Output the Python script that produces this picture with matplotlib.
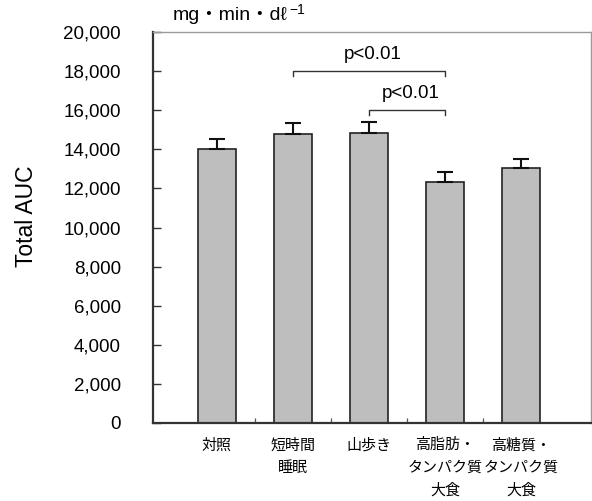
import matplotlib
matplotlib.use("Agg")
import matplotlib.pyplot as plt
import numpy as np

plt.rcParams['font.family'] = ['Liberation Sans', 'Noto Sans CJK JP', 'DejaVu Sans']

categories = ["対照", "短時間\n睡眠", "山歩き", "高脂肪・\nタンパク質\n大食", "高糖質・\nタンパク質\n大食"]
auc_mean = [14000, 14800, 14820, 12350, 13060]
auc_err = [540, 560, 560, 510, 460]
yticks = [0, 2000, 4000, 6000, 8000, 10000, 12000, 14000, 16000, 18000, 20000]
# significance brackets: (left index, right index, height, label)
sig_pairs = [(1, 3, 18000, "p<0.01"), (2, 3, 16000, "p<0.01")]
unit_label = "mg・min・dℓ"

fig = plt.figure(figsize=(5.92, 5.01), dpi=100)
ax = fig.add_axes([0.2584, 0.1557, 0.7396, 0.7803])

x = np.arange(len(categories))
ax.bar(x, auc_mean, width=0.49, color="#bebebe", edgecolor="#222222", linewidth=1.2, zorder=2)
ax.errorbar(x, auc_mean, yerr=[np.zeros(len(auc_err)), auc_err], fmt="none",
            ecolor="#111111", elinewidth=1.5, capsize=5.5, capthick=1.5, zorder=3)

ax.set_xlim(-0.842, 4.92)
ax.set_ylim(0, 20000)
ax.set_yticks(yticks)
ax.set_yticklabels([f"{v:,}" for v in yticks], fontsize=13.5)
ax.tick_params(axis="y", direction="in", length=5.5, width=1, pad=23, color="#333333")

ax.set_xticks(x)
ax.set_xticklabels(categories, fontsize=10.8, linespacing=1.75)
ax.tick_params(axis="x", which="major", length=0, pad=11)
ax.set_xticks(x[:-1] + 0.5, minor=True)
ax.tick_params(axis="x", which="minor", direction="in", length=3.5, width=0.9, color="#555555")

for side in ("left", "bottom"):
    ax.spines[side].set_color("#333333")
    ax.spines[side].set_linewidth(1.6)
for side in ("top", "right"):
    ax.spines[side].set_color("#9a9a9a")
    ax.spines[side].set_linewidth(1.0)

ax.set_ylabel("Total AUC", fontsize=16.5)
ax.yaxis.set_label_coords(-0.262, 0.53)

# significance brackets
for left, right, h, label in sig_pairs:
    drop = 250
    ax.plot([left, left, right, right], [h - drop, h, h, h - drop],
            color="#333333", linewidth=1.0, zorder=4)
    ax.text((left + right) / 2 + 0.05, h + 420, label, ha="center", va="bottom", fontsize=13.5)

# unit label above the plot area
unit = ax.text(0.045, 1.02, unit_label, transform=ax.transAxes,
               ha="left", va="bottom", fontsize=14)
ax.annotate("−1", xy=(1.0, 1.0), xycoords=unit, xytext=(1.5, 3),
            textcoords="offset points", ha="left", va="top", fontsize=10)

fig.savefig("out.png", dpi=100)
